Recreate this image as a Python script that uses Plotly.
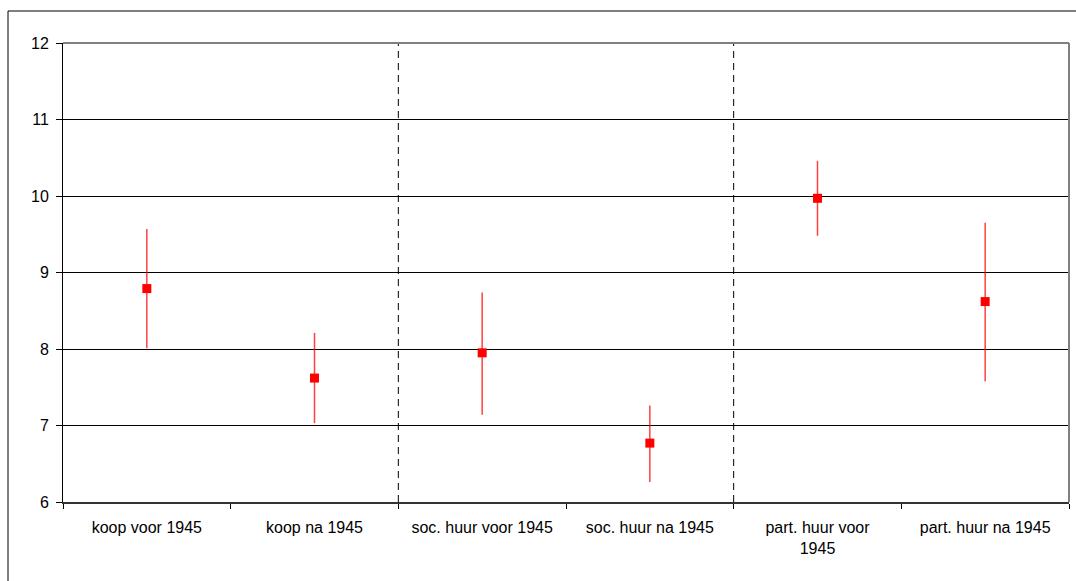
import plotly.graph_objects as go

categories = ["koop voor 1945", "koop na 1945", "soc. huur voor 1945",
              "soc. huur na 1945", "part. huur voor<br>1945", "part. huur na 1945"]
means = [8.79, 7.62, 7.95, 6.77, 9.97, 8.62]
upper = [9.57, 8.21, 8.74, 7.26, 10.46, 9.65]
lower = [8.01, 7.03, 7.14, 6.26, 9.48, 7.58]
y_ticks = [6, 7, 8, 9, 10, 11, 12]
dividers = [1.5, 3.5]

err_plus = [u - m for u, m in zip(upper, means)]
err_minus = [m - l for m, l in zip(means, lower)]

fig = go.Figure()
fig.add_trace(go.Scatter(
    x=categories, y=means, mode="markers",
    marker=dict(symbol="square", size=9, color="#ff0000"),
    error_y=dict(type="data", symmetric=False, array=err_plus, arrayminus=err_minus,
                 color="rgba(255,0,0,0.75)", thickness=1.5, width=0),
    showlegend=False,
))

shapes = []
for d in dividers:
    shapes.append(dict(type="line", xref="x", yref="y", x0=d, x1=d, y0=6, y1=12,
                       line=dict(color="black", width=1, dash="7px,5px"), layer="below"))
# plot-area border top/right in grey
shapes.append(dict(type="line", xref="paper", yref="paper", x0=0, x1=1, y0=1, y1=1,
                   line=dict(color="#808080", width=2), layer="above"))
shapes.append(dict(type="line", xref="paper", yref="paper", x0=1, x1=1, y0=0, y1=1,
                   line=dict(color="#808080", width=2), layer="above"))
# outer chart border
shapes.append(dict(type="rect", xref="paper", yref="paper",
                   x0=-55 / 1006, x1=1.02, y0=-0.2, y1=491 / 459,
                   line=dict(color="black", width=1), fillcolor="rgba(0,0,0,0)", layer="below"))

fig.update_layout(
    width=1076, height=581,
    margin=dict(l=63, r=7, t=43, b=79),
    paper_bgcolor="white", plot_bgcolor="white",
    font=dict(family="Liberation Sans, Arial, sans-serif", size=16, color="black"),
    shapes=shapes,
    xaxis=dict(type="category", range=[-0.5, 5.5], tickson="boundaries",
               ticks="outside", ticklen=5, tickcolor="black",
               showline=True, linecolor="#333333", linewidth=2,
               showgrid=False, zeroline=False, fixedrange=True,
               ticklabelstandoff=10),
    yaxis=dict(range=[6, 12], tickvals=y_ticks, ticks="outside", ticklen=6,
               tickcolor="black", showline=True, linecolor="black", linewidth=1,
               showgrid=True, gridcolor="black", gridwidth=1, zeroline=False,
               ticklabelstandoff=4),
)

fig.write_html("out.html")
